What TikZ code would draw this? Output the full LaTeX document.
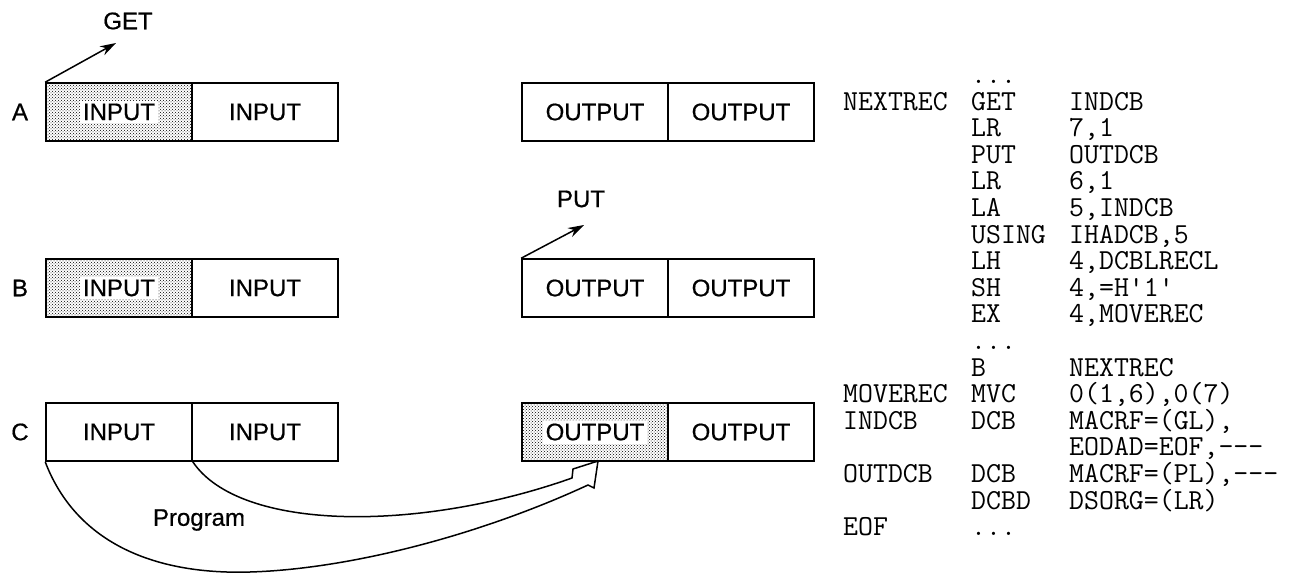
\documentclass[tikz,border=0pt]{standalone}
\usepackage{fontspec}
\setmainfont{Liberation Sans}
\usetikzlibrary{arrows.meta,patterns}
\newcommand\hlbox[1]{{\setlength{\fboxsep}{3pt}\colorbox{white}{#1}}}
\newcommand\sansfnt{\fontsize{24}{28}\selectfont\addfontfeature{FakeBold=0.6}}
\newcommand\codeln[4]{%
  \if\relax\detokenize{#2}\relax\else\node[codetext] (ca#1) at (843,{83.4+26.6*#1}) {#2};\fi
  \if\relax\detokenize{#3}\relax\else\node[codetext] (cb#1) at (971,{83.4+26.6*#1}) {#3};\fi
  \if\relax\detokenize{#4}\relax\else\node[codetext] (cc#1) at (1069,{83.4+26.6*#1}) {#4};\fi}
\begin{document}
\begin{tikzpicture}[x=1pt,y=-1pt,
  cell/.style={draw, line width=1.6pt, minimum width=146pt, minimum height=58pt, inner sep=0pt,
    font=\sansfnt},
  shaded/.style={pattern=crosshatch dots, pattern color=black},
  lbl/.style={font=\sansfnt, inner sep=0pt},
  codetext/.style={font=\ttfamily\fontsize{29}{30}\selectfont, anchor=base west, inner sep=0pt},
  conn/.style={line width=1.5pt},
  tip/.style={-{Stealth[length=16pt,width=10pt]}}]
\useasboundingbox (0,0) rectangle (1299,573);
% row labels
\node[lbl] (la) at (20,112) {A};
\node[lbl] (lb) at (20,288) {B};
\node[lbl] (lc) at (20,432) {C};
% row A
\node[cell,shaded] (a1) at (119,112) {\hlbox{INPUT}};
\node[cell] (a2) at (265,112) {INPUT};
\node[cell] (a3) at (595,112) {OUTPUT};
\node[cell] (a4) at (741,112) {OUTPUT};
% row B
\node[cell,shaded] (b1) at (119,288) {\hlbox{INPUT}};
\node[cell] (b2) at (265,288) {INPUT};
\node[cell] (b3) at (595,288) {OUTPUT};
\node[cell] (b4) at (741,288) {OUTPUT};
% row C
\node[cell] (c1) at (119,432) {INPUT};
\node[cell] (c2) at (265,432) {INPUT};
\node[cell,shaded] (c3) at (595,432) {\hlbox{OUTPUT}};
\node[cell] (c4) at (741,432) {OUTPUT};
% GET / PUT
\node[lbl] (get) at (128,21) {GET};
\coordinate (gettip) at (116,43);
\draw[conn,tip] (a1.north west) -- (gettip);
\node[lbl] (put) at (581,199) {PUT};
\coordinate (puttip) at (584,225);
\draw[conn,tip] (b3.north west) -- (puttip);
% program arrow
\coordinate (lowend) at (588,485);
\coordinate (rbarb) at (594,488);
\coordinate (atip) at (598,461);
\coordinate (lbarb) at (573,469);
\coordinate (upend) at (572,478);
\draw[conn, line join=miter] (c1.south west) .. controls (75,540) and (150,575) .. (250,572)
  .. controls (350,569) and (480,535) .. (lowend) -- (rbarb) -- (atip) -- (lbarb) -- (upend)
  .. controls (420,532) and (240,532) .. (c1.south east);
\node[lbl] (prog) at (199,520) {Program};
% code listing
\codeln{0}{}{...}{}
\codeln{1}{NEXTREC}{GET}{INDCB}
\codeln{2}{}{LR}{7,1}
\codeln{3}{}{PUT}{OUTDCB}
\codeln{4}{}{LR}{6,1}
\codeln{5}{}{LA}{5,INDCB}
\codeln{6}{}{USING}{IHADCB,5}
\codeln{7}{}{LH}{4,DCBLRECL}
\codeln{8}{}{SH}{4,=H\textquotesingle 1\textquotesingle}
\codeln{9}{}{EX}{4,MOVEREC}
\codeln{10}{}{...}{}
\codeln{11}{}{B}{NEXTREC}
\codeln{12}{MOVEREC}{MVC}{0(1,6),0(7)}
\codeln{13}{INDCB}{DCB}{MACRF=(GL),}
\codeln{14}{}{}{EODAD=EOF,-{}-{}-}
\codeln{15}{OUTDCB}{DCB}{MACRF=(PL),-{}-{}-}
\codeln{16}{}{DCBD}{DSORG=(LR)}
\codeln{17}{EOF}{...}{}
\end{tikzpicture}
\end{document}
